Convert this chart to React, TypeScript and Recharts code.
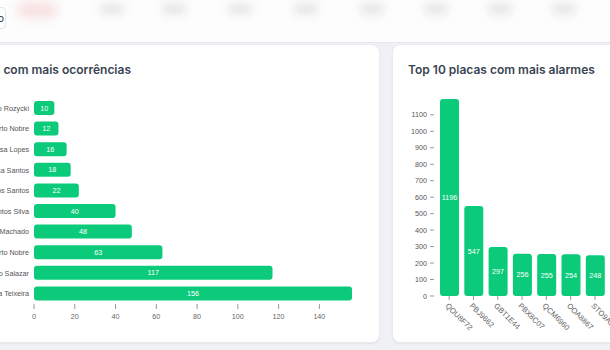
import React from 'react';
import { BarChart, Bar, XAxis, YAxis, LabelList } from 'recharts';

const driverNames = [
  'Marcelo Rozycki',
  'Roberto Nobre',
  'Vanessa Lopes',
  'Vanessa Santos',
  'Marcos Santos',
  'João Santos Silva',
  'Pedro Machado',
  'Alberto Nobre',
  'Marcelo Salazar',
  'Andrea Teixeira',
];
const driverCounts = [10, 12, 16, 18, 22, 40, 48, 63, 117, 156];
const driverTicks = [0, 20, 40, 60, 80, 100, 120, 140];

const plates = ['QOU8F72', 'PBJ9662', 'GBT1E44', 'PBX8C07', 'QCM6960', 'OOA8867', 'STO9A21', 'QFK2B19', 'PCN7H33', 'OZA4D50'];
const plateAlarms = [1196, 547, 297, 256, 255, 254, 248, 241, 236, 229];
const plateTicks = [0, 100, 200, 300, 400, 500, 600, 700, 800, 900, 1000, 1100];

const driverData = driverNames.map((name, i) => ({ name, value: driverCounts[i] }));
const plateData = plates.map((name, i) => ({ name, value: plateAlarms[i] }));

const GREEN = '#0bcb7b';
const TICK_FONT = '"Liberation Sans", Arial, sans-serif';
const FS = 7.2;

const RotatedTick = (props: any) => {
  const { x, y, payload } = props;
  return (
    <g transform={`translate(${x},${y})`}>
      <text
        x={0}
        y={0}
        dy={6}
        textAnchor="start"
        fill="#666"
        fontSize={7.6}
        fontFamily={TICK_FONT}
        transform="rotate(45)"
      >
        {payload.value}
      </text>
    </g>
  );
};

const blobs = [100, 162, 228, 294, 360, 424, 488, 552];

export default function App() {
  return (
    <div
      style={{
        position: 'absolute',
        left: 0,
        top: 0,
        width: 610,
        height: 350,
        overflow: 'hidden',
        background: '#eff1f5',
        fontFamily: 'Inter, "Noto Sans", sans-serif',
      }}
    >
      {/* header */}
      <div
        style={{
          position: 'absolute',
          left: 0,
          top: 0,
          width: 610,
          height: 42,
          background: '#fdfdfd',
          borderBottom: '1px solid #e6e8ee',
          overflow: 'hidden',
        }}
      >
        <div
          style={{
            position: 'absolute',
            left: 18,
            top: 4,
            width: 38,
            height: 12,
            background: '#f6d8d8',
            filter: 'blur(6px)',
            borderRadius: 4,
          }}
        />
        {blobs.map((bx) => (
          <div
            key={bx}
            style={{
              position: 'absolute',
              left: bx,
              top: 4,
              width: 24,
              height: 10,
              background: '#e4e4e4',
              filter: 'blur(5px)',
              borderRadius: 4,
            }}
          />
        ))}
        <div
          style={{
            position: 'absolute',
            left: -20,
            top: 7,
            width: 26,
            height: 22,
            background: '#fff',
            border: '1px solid #e2e4e8',
            borderRadius: 4,
            fontSize: 10,
            lineHeight: '20px',
            textAlign: 'right',
            color: '#333',
            paddingRight: 1,
            boxSizing: 'border-box',
          }}
        >
          o
        </div>
      </div>

      {/* left card */}
      <div
        style={{
          position: 'absolute',
          left: -300,
          top: 44,
          width: 680,
          height: 299,
          background: '#fff',
          borderRadius: 8,
          boxShadow: '0 1px 2px rgba(0,0,0,0.06)',
          border: '1px solid #e9ebef',
          boxSizing: 'border-box',
        }}
      />
      <div
        style={{
          position: 'absolute',
          right: 479,
          top: 62,
          whiteSpace: 'nowrap',
          fontSize: 12,
          fontWeight: 600,
          color: '#3a4452',
        }}
      >
        Top 10 motoristas com mais ocorrências
      </div>
      <div style={{ position: 'absolute', left: -100, top: 90, fontFamily: TICK_FONT }}>
        <BarChart
          width={470}
          height={245}
          data={driverData}
          layout="vertical"
          margin={{ top: 8, right: 18, left: 0, bottom: 0 }}
        >
          <XAxis
            type="number"
            domain={[0, 156]}
            ticks={driverTicks}
            axisLine={false}
            tickSize={5}
            tickMargin={5}
            height={31}
            tick={{ fontSize: FS, fill: '#666', fontFamily: TICK_FONT }}
            tickLine={{ stroke: '#999' }}
          />
          <YAxis
            type="category"
            dataKey="name"
            width={134}
            axisLine={false}
            tickLine={false}
            tickSize={3}
            tickMargin={2}
            interval={0}
            tick={{ fontSize: FS, fill: '#555', fontFamily: TICK_FONT }}
          />
          <Bar dataKey="value" fill={GREEN} barSize={14} radius={3} isAnimationActive={false}>
            <LabelList
              dataKey="value"
              position="center"
              fill="#fff"
              fontSize={FS}
              fontFamily={TICK_FONT}
            />
          </Bar>
        </BarChart>
      </div>

      {/* right card */}
      <div
        style={{
          position: 'absolute',
          left: 392,
          top: 44,
          width: 400,
          height: 299,
          background: '#fff',
          borderRadius: 8,
          boxShadow: '0 1px 2px rgba(0,0,0,0.06)',
          border: '1px solid #e9ebef',
          boxSizing: 'border-box',
        }}
      />
      <div
        style={{
          position: 'absolute',
          left: 408,
          top: 62,
          whiteSpace: 'nowrap',
          fontSize: 12,
          fontWeight: 600,
          color: '#3a4452',
        }}
      >
        Top 10 placas com mais alarmes
      </div>
      <div style={{ position: 'absolute', left: 398, top: 90, fontFamily: TICK_FONT }}>
        <BarChart
          width={300}
          height={256}
          data={plateData}
          margin={{ top: 9, right: 18, left: 0, bottom: 0 }}
        >
          <XAxis
            dataKey="name"
            axisLine={false}
            tickSize={4}
            tickLine={{ stroke: '#999' }}
            interval={0}
            padding={{ left: 3, right: 0 }}
            height={50}
            tick={<RotatedTick />}
          />
          <YAxis
            type="number"
            domain={[0, 1196]}
            ticks={plateTicks}
            width={36}
            axisLine={false}
            tickSize={4}
            tickMargin={3}
            tickLine={{ stroke: '#999' }}
            tick={{ fontSize: FS, fill: '#555', fontFamily: TICK_FONT }}
          />
          <Bar dataKey="value" fill={GREEN} barSize={19} radius={3} isAnimationActive={false}>
            <LabelList
              dataKey="value"
              position="center"
              fill="#fff"
              fontSize={FS}
              fontFamily={TICK_FONT}
            />
          </Bar>
        </BarChart>
      </div>
    </div>
  );
}
